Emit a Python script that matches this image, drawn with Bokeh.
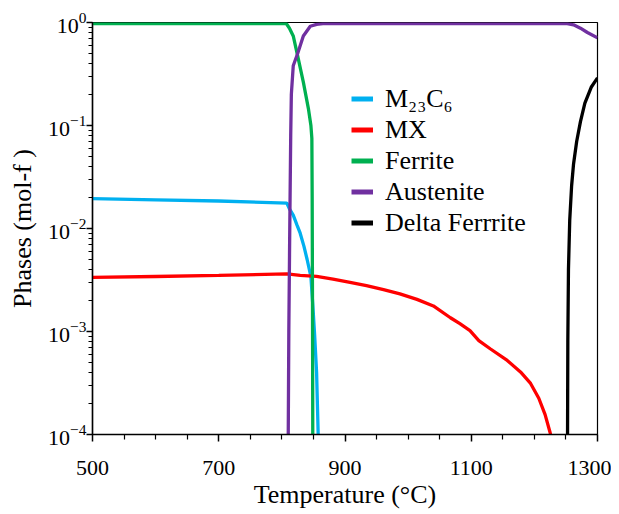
from bokeh.plotting import figure
from bokeh.models import FixedTicker, Legend, LegendItem, Range1d, Label
from bokeh.embed import file_html
from bokeh.resources import INLINE

# ---- data ----
t_m23c6 = [500, 600, 700, 808, 812, 818, 824, 829, 835, 840, 846, 849, 852, 855, 857.5, 858.5]
v_m23c6 = [0.0195, 0.019, 0.0185, 0.0176, 0.0155, 0.0135, 0.0108, 0.009, 0.0067, 0.005,
           0.0034, 0.0018, 0.0009, 0.0004, 0.0001, 0.00008]

t_mx = [500, 600, 700, 808, 829, 855, 881, 908, 934, 961, 987, 1014, 1040, 1067, 1082,
        1098, 1112, 1130, 1157, 1178, 1194, 1207, 1217, 1225, 1229]
v_mx = [0.00335, 0.00342, 0.0035, 0.00363, 0.0035, 0.00343, 0.00323, 0.0030, 0.00279,
        0.00255, 0.00232, 0.00205, 0.00177, 0.00136, 0.00119, 0.00102, 0.000815, 0.00068,
        0.000524, 0.000405, 0.000313, 0.000225, 0.000156, 0.000104, 0.00008]

t_ferrite = [500, 700, 807, 812, 818, 825, 834, 842, 846, 847.5, 848, 848.5, 849]
v_ferrite = [0.977, 0.977, 0.977, 0.88, 0.74, 0.475, 0.264, 0.146, 0.1, 0.075, 0.02, 0.002, 0.00008]

t_austenite = [810, 811, 812.5, 814, 815, 818, 825, 834, 845, 855, 865, 1000, 1252, 1262,
               1273, 1284, 1300]
v_austenite = [0.00008, 0.001, 0.01, 0.08, 0.2, 0.38, 0.5, 0.74, 0.92, 0.96, 0.975, 0.975,
               0.975, 0.95, 0.88, 0.80, 0.71]

t_delta = [1252.5, 1253, 1254, 1256, 1259, 1262, 1267, 1273, 1280, 1290, 1300]
v_delta = [0.00008, 0.0008, 0.004, 0.012, 0.026, 0.042, 0.07, 0.109, 0.165, 0.235, 0.29]

series_names = ["M\u2082\u2083C\u2086", "MX", "Ferrite", "Austenite", "Delta Ferrrite"]
series_colors = ["#00B0F0", "#FF0000", "#00B050", "#7030A0", "#000000"]

x_ticks = [500, 700, 900, 1100, 1300]
x_minor = [550, 600, 650, 750, 800, 850, 950, 1000, 1050, 1150, 1200, 1250]

x_title = "Temperature (\u00b0C)"
y_title = "Phases (mol-f )"

FONT = "Liberation Serif"

p = figure(width=611, height=511, y_axis_type="log",
           x_range=Range1d(500, 1300), y_range=Range1d(1e-4, 1),
           output_backend="svg", toolbar_location=None,
           min_border_left=92, min_border_right=14, min_border_top=22, min_border_bottom=72)

p.xgrid.visible = False
p.ygrid.visible = False
p.outline_line_color = "black"
p.outline_line_width = 1.2

data = [(t_m23c6, v_m23c6), (t_mx, v_mx), (t_ferrite, v_ferrite),
        (t_austenite, v_austenite), (t_delta, v_delta)]
items = []
for (tx, vy), name, col in zip(data, series_names, series_colors):
    p.line(tx, vy, line_color=col, line_width=3.3)
    # legend-only renderer, kept outside the visible range
    dummy = p.line([0, 1], [1e-8, 1e-8], line_color=col, line_width=5)
    items.append(LegendItem(label=name, renderers=[dummy]))

legend = Legend(items=items, location=(259, 196), padding=0, margin=0, spacing=0,
                glyph_width=22, glyph_height=31, label_height=31, label_standoff=12,
                border_line_color=None, background_fill_alpha=0,
                label_text_font=FONT, label_text_font_size="26px", label_text_color="black")
p.add_layout(legend)

# blank label in the serif font: makes the page load the font and repaint the axes with it
p.add_layout(Label(x=600, y=0.5, text=" ", text_font=FONT, text_font_size="26px"))

xa = p.xaxis[0]
ya = p.yaxis[0]
xa.ticker = FixedTicker(ticks=x_ticks, minor_ticks=x_minor)
xa.axis_label = x_title
ya.axis_label = y_title

for ax in (xa, ya):
    ax.axis_label_text_font = FONT
    ax.axis_label_text_font_size = "26px"
    ax.axis_label_text_font_style = "normal"
    ax.axis_label_text_color = "black"
    ax.major_label_text_font = FONT
    ax.major_label_text_font_size = "22px"
    ax.major_label_text_color = "black"
    ax.axis_line_color = "black"
    ax.axis_line_width = 1.5
    ax.major_tick_line_color = "black"
    ax.minor_tick_line_color = "black"
    ax.major_tick_line_width = 1.5
    ax.minor_tick_line_width = 1.2
    ax.major_tick_in = 0
    ax.minor_tick_in = 0

xa.major_tick_out = 7
xa.minor_tick_out = 5
ya.major_tick_out = 6
ya.minor_tick_out = 4
xa.major_label_standoff = 19
ya.major_label_standoff = 0
xa.axis_label_standoff = 2
ya.axis_label_standoff = 8

open("out.html", "w").write(file_html(p, INLINE))
